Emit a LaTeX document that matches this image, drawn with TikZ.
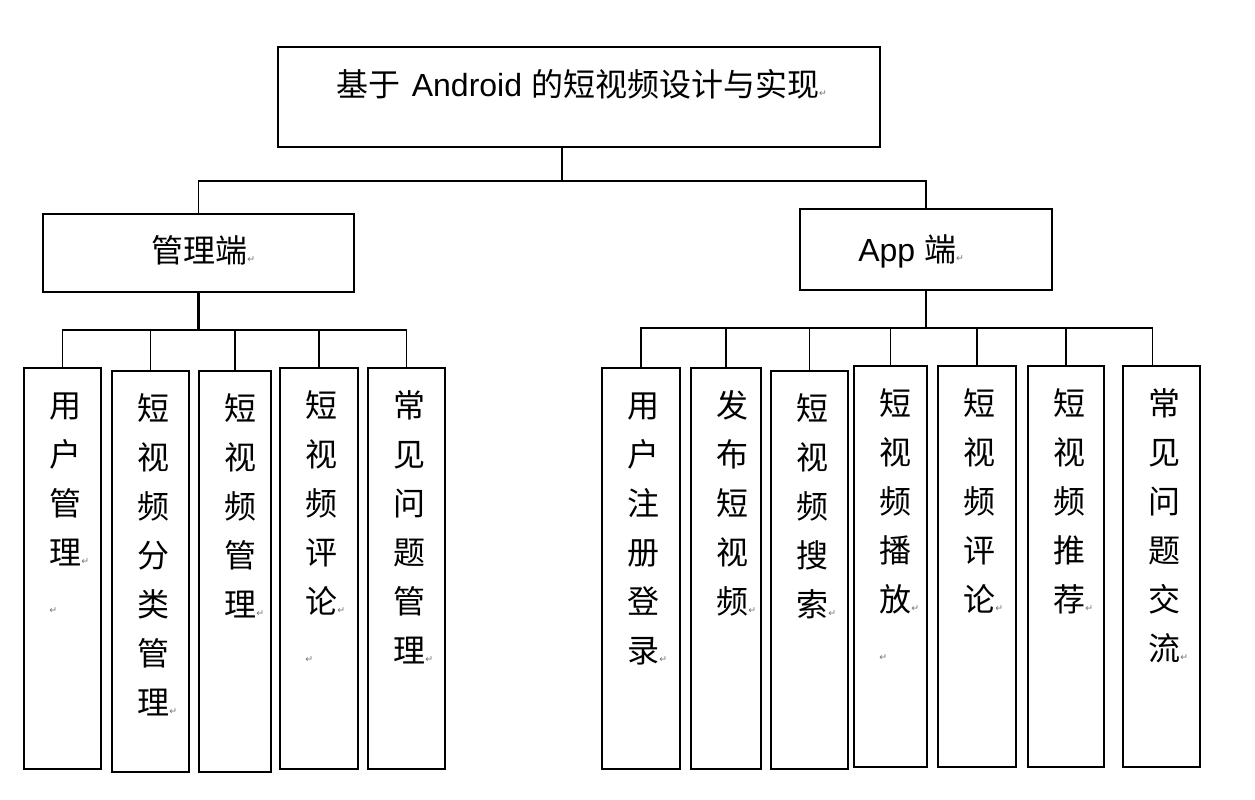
\documentclass[tikz,border=0pt]{standalone}
\usepackage{fontspec}
\setmainfont{Liberation Sans}
\newfontfamily\cjk{Noto Sans CJK SC}
\newfontfamily\dvs{DejaVu Sans}
\newcommand\rmk{{\dvs\fontsize{7}{7}\selectfont\textcolor{black!55}{↵}}}
\tikzset{
  box/.style={draw, line width=1.6pt, inner sep=0pt, outer sep=0pt},
  conn/.style={draw, line width=1.4pt},
  stem/.style={draw, line width=2pt},
  txt/.style={anchor=base west, inner sep=0pt, font=\fontsize{24}{28}\selectfont},
  vtext/.style={anchor=base west, inner sep=0pt, font=\cjk\fontsize{24}{36.75}\selectfont},
}
\newcommand\mkbox[6]{%
  \node[box, minimum width={#4*0.75pt}, minimum height={#5*0.75pt}] (#1) at ({#2+#4/2},{#3+#5/2}) {};
  \node[vtext] (#1t) at ({#2+25},{#3+49}) {\begin{tabular}[t]{@{}l@{}}#6\end{tabular}};}
\begin{document}
\begin{tikzpicture}[x=0.75pt,y=-0.75pt]
\useasboundingbox (0,0) rectangle (1255,799);
% top level
\node[box, minimum width={602*0.75pt}, minimum height={100*0.75pt}] (top) at (579,97) {};
\node[txt] (ttl) at (336,96) {{\cjk 基于}\hspace{2pt} Android {\cjk 的短视频设计与实现}\rmk};
% second level
\node[box, minimum width={311*0.75pt}, minimum height={78*0.75pt}] (mgr) at (198.5,253) {};
\node[txt] (mgrt) at (151,262) {{\cjk 管理端}\rmk};
\node[box, minimum width={252*0.75pt}, minimum height={81*0.75pt}] (app) at (926,249.5) {};
\node[txt] (appt) at (858,261) {App {\cjk 端}\rmk};
% left children
\mkbox{c1}{24}{368}{77}{401}{用\\户\\管\\理\rmk\\\rmk}
\mkbox{c2}{112}{371}{77}{401}{短\\视\\频\\分\\类\\管\\理\rmk}
\mkbox{c3}{199}{371}{72}{401}{短\\视\\频\\管\\理\rmk}
\mkbox{c4}{280}{368}{78}{401}{短\\视\\频\\评\\论\rmk\\\rmk}
\mkbox{c5}{368}{368}{77}{401}{常\\见\\问\\题\\管\\理\rmk}
% right children
\mkbox{r1}{602}{368}{78}{401}{用\\户\\注\\册\\登\\录\rmk}
\mkbox{r2}{691}{368}{70}{401}{发\\布\\短\\视\\频\rmk}
\mkbox{r3}{771}{371}{77}{398}{短\\视\\频\\搜\\索\rmk}
\mkbox{r4}{854}{366}{73}{401}{短\\视\\频\\播\\放\rmk\\\rmk}
\mkbox{r5}{938}{366}{78}{401}{短\\视\\频\\评\\论\rmk}
\mkbox{r6}{1028}{366}{76}{401}{短\\视\\频\\推\\荐\rmk}
\mkbox{r7}{1123}{366}{77}{401}{常\\见\\问\\题\\交\\流\rmk}
% connectors
\coordinate (busT) at (562,181);
\draw[conn] (top.south -| busT) -- (busT);
\draw[conn] (mgr.north) |- (busT) -| (app.north);
\coordinate (busL) at (199,330);
\draw[stem] (mgr.south) -- (mgr.south |- busL);
\foreach \c in {c1,c2,c3,c4,c5} \draw[conn] (\c.north) |- (busL);
\coordinate (busR) at (926,328);
\draw[stem] (app.south) -- (busR);
\foreach \c in {r1,r2,r3,r4,r5,r6} \draw[conn] (\c.north) |- (busR);
\draw[conn] ([xshift=-6.75pt]r7.north) |- (busR);
\end{tikzpicture}
\end{document}
